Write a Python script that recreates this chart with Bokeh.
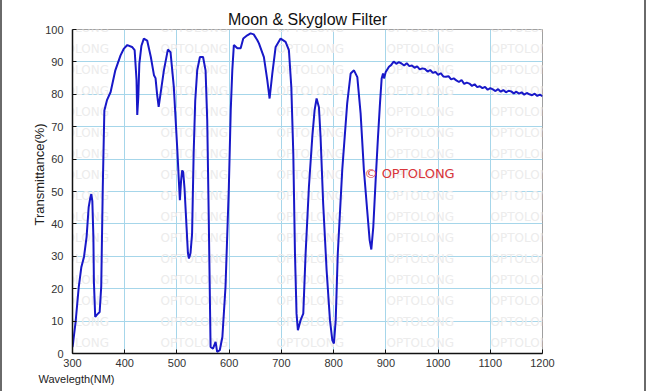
from bokeh.plotting import figure
from bokeh.models import (Range1d, FixedTicker, Label, LabelSet, ColumnDataSource, Title)
from bokeh.core.properties import value
from bokeh.embed import file_html
from bokeh.resources import INLINE

# ---- data ----
wavelength_nm = [
    300, 301, 306, 312, 317, 322, 327, 331, 334, 336, 338, 340, 341, 343.5, 347, 352,
    355, 358, 361, 366, 373, 382, 392, 398, 405, 414, 419, 422.6, 424, 426, 428, 432,
    436.6, 443, 450, 456, 459, 462, 465, 468.6, 475, 482.6, 487.7, 494, 500.4, 503.6,
    505.6, 508, 510, 512, 514.5, 518.4, 521, 523, 526, 529, 532, 535, 538.8, 544, 550,
    554.8, 558, 561, 564.4, 569, 574, 577, 582, 587, 593, 599.4, 603, 606, 609, 615.7,
    622, 627, 634.7, 641, 647, 654, 657, 666.5, 673, 677.4, 682.6, 689, 698.5, 708,
    714.4, 719, 722.8, 726, 729, 731.6, 736.8, 741.9, 746.4, 752.7, 759.2, 763.6, 767.4,
    771.9, 775, 780, 786.6, 793, 797.5, 800.6, 804, 808, 816.5, 826, 832.6, 839, 845.4,
    851.7, 858, 864.8, 869, 872.2, 876, 880.5, 885, 888.8, 892, 894.6, 896.5, 899.8, 906,
    910, 915, 920, 925, 930, 935, 940, 945, 950, 955, 960, 965, 970, 975, 980, 985, 990,
    995, 1000, 1005, 1010, 1015, 1020, 1025, 1030, 1035, 1040, 1045, 1050, 1055, 1060,
    1065, 1070, 1075, 1080, 1085, 1090, 1095, 1100, 1105, 1110, 1115, 1120, 1125, 1130,
    1135, 1140, 1145, 1150, 1155, 1160, 1165, 1170, 1175, 1180, 1185, 1190, 1195, 1200,
]
transmittance_pct = [
    2.0, 3.1, 9.8, 20.6, 26.7, 29.8, 36.0, 45.2, 48.0, 49.2, 47.0, 36.0, 22.0, 11.3, 12.0, 12.8,
    20.6, 51.4, 75.0, 78.2, 80.7, 87.4, 92.0, 94.0, 95.2, 94.6, 93.6, 84.4, 73.6, 79.2, 89.5, 95.0,
    97.2, 96.6, 91.5, 85.9, 85.0, 80.0, 76.1, 80.2, 87.4, 93.8, 93.0, 82.3, 63.8, 53.5,
    47.3, 53.5, 56.5, 56.0, 51.0, 39.0, 31.0, 29.3, 31.0, 37.0, 61.7, 78.0, 87.4, 91.5, 91.5,
    87.4, 72.0, 41.0, 2.0, 1.5, 3.6, 0.5, 1.0, 5.1, 20.6, 51.4, 75.0, 87.4, 95.2, 94.2,
    94.2, 97.2, 98.2, 98.8, 98.5, 96.7, 95.7, 91.5, 84.4, 78.7, 86.4, 94.6, 97.2, 96.2,
    93.6, 82.3, 61.7, 30.9, 12.3, 7.2, 10.3, 12.3, 30.9, 51.4, 66.9, 75.1, 78.7,
    76.0, 66.9, 46.3, 25.7, 10.3, 4.1, 3.1, 10.3, 30.9, 56.6, 77.2, 86.4, 87.4, 85.3,
    74.1, 56.6, 43.2, 35.0, 32.1, 39.1, 53.5, 66.9, 77.2, 84.9, 86.4, 84.9, 86.9, 88.5,
    89.0, 90.1, 89.4, 89.9, 89.5, 88.9, 89.6, 88.7, 88.9, 88.2, 88.6, 87.7, 88.0, 87.8, 87.0, 87.5, 86.6,
    86.9, 86.0, 86.5, 85.5, 85.4, 85.6, 84.6, 84.9, 84.3, 83.8, 84.4, 83.2, 83.6, 83.3,
    82.6, 83.1, 82.2, 82.5, 81.9, 82.3, 81.4, 81.9, 81.5, 81.0, 81.6, 80.8, 81.3, 80.6,
    81.1, 80.9, 80.3, 80.8, 80.2, 80.6, 79.9, 80.4, 80.0, 79.7, 80.2, 79.5, 79.9, 79.4,
]
x_ticks = [300, 400, 500, 600, 700, 800, 900, 1000, 1100, 1200]
y_ticks = [0, 10, 20, 30, 40, 50, 60, 70, 80, 90, 100]

TITLE = "Moon & Skyglow Filter"
Y_LABEL = "Transmittance(%)"
X_LABEL = "Wavelegth(NM)"
WATERMARK = "OPTOLONG"
COPYRIGHT = "\u00a9 OPTOLONG"

FONT = "Liberation Sans"

BORDER = 2
W, H = 650 - 2 * BORDER, 391
ML, MR, MT, MB = 72 - BORDER, 108 - BORDER, 29, 38

p = figure(width=W, height=H, output_backend="svg", toolbar_location=None,
           x_range=Range1d(300, 1200), y_range=Range1d(0, 100),
           min_border_left=ML, min_border_right=MR, min_border_top=MT, min_border_bottom=MB,
           background_fill_color="white", border_fill_color="white")
p.styles = {"border-left": f"{BORDER}px solid #6a6a6a",
            "border-right": f"{BORDER}px solid #6a6a6a"}

p.title.text = TITLE
p.title.align = "center"
p.title.text_font = FONT
p.title.text_font_size = "16px"
p.title.text_font_style = "normal"
p.title.text_color = "#111111"
p.title.standoff = 4

p.outline_line_color = "#a0a0a0"
p.outline_line_width = 1

for ax, ticks in ((p.xaxis[0], x_ticks), (p.yaxis[0], y_ticks)):
    ax.ticker = FixedTicker(ticks=ticks)
    ax.axis_line_color = "#111111"
    ax.axis_line_width = 1.5
    ax.major_tick_in = 4
    ax.major_tick_out = 0
    ax.major_tick_line_color = "#111111"
    ax.minor_tick_line_color = None
    ax.major_label_text_font = FONT
    ax.major_label_text_font_size = "11px"
    ax.major_label_text_color = "#333333"

p.xaxis[0].major_label_standoff = 5
p.yaxis[0].major_label_standoff = 9

p.xgrid.ticker = FixedTicker(ticks=x_ticks)
p.ygrid.ticker = FixedTicker(ticks=y_ticks)
p.grid.grid_line_color = "#a6d6ea"
p.grid.grid_line_width = 1

# axis labels placed like the reference (off-centre)
p.add_layout(Title(text=X_LABEL, align="left", offset=-34, standoff=3,
                   text_font=FONT, text_font_size="11px", text_font_style="normal",
                   text_color="#222222"), "below")
p.add_layout(Title(text=Y_LABEL, align="left", offset=128, standoff=-9,
                   text_font=FONT, text_font_size="13px", text_font_style="normal",
                   text_color="#222222"), "left")

# helpers converting canvas pixels to data coords (decorations only)
fw = W - ML - MR
fh = H - MT - MB
def dx(px):
    return 300 + (px - BORDER - ML) / fw * 900
def dy(py):
    return (H - MB - py) / fh * 100

# faint watermark grid (inside the frame)
wm_cols = [41, 160, 276, 386, 490]
wm_x, wm_y = [], []
for i in range(19):
    for cx in wm_cols:
        wm_x.append(dx(cx))
        wm_y.append(dy(6 + 21 * i))
wm_src = ColumnDataSource(dict(x=wm_x, y=wm_y, t=[WATERMARK] * len(wm_x)))
p.add_layout(LabelSet(x="x", y="y", text="t", source=wm_src, level="underlay",
                      text_font=value("DejaVu Sans"), text_font_size=value("12px"),
                      text_color=value("#ececec"),
                      text_align="left", text_baseline="middle"))

# curve
p.line(wavelength_nm, transmittance_pct, line_color="#1818c8", line_width=2)

# copyright
p.add_layout(Label(x=dx(364), y=dy(173), text=COPYRIGHT, text_font="DejaVu Sans",
                   text_font_size="13px", text_color="#d9363c",
                   text_align="left", text_baseline="middle"))

open("out.html", "w").write(file_html(p, INLINE))
